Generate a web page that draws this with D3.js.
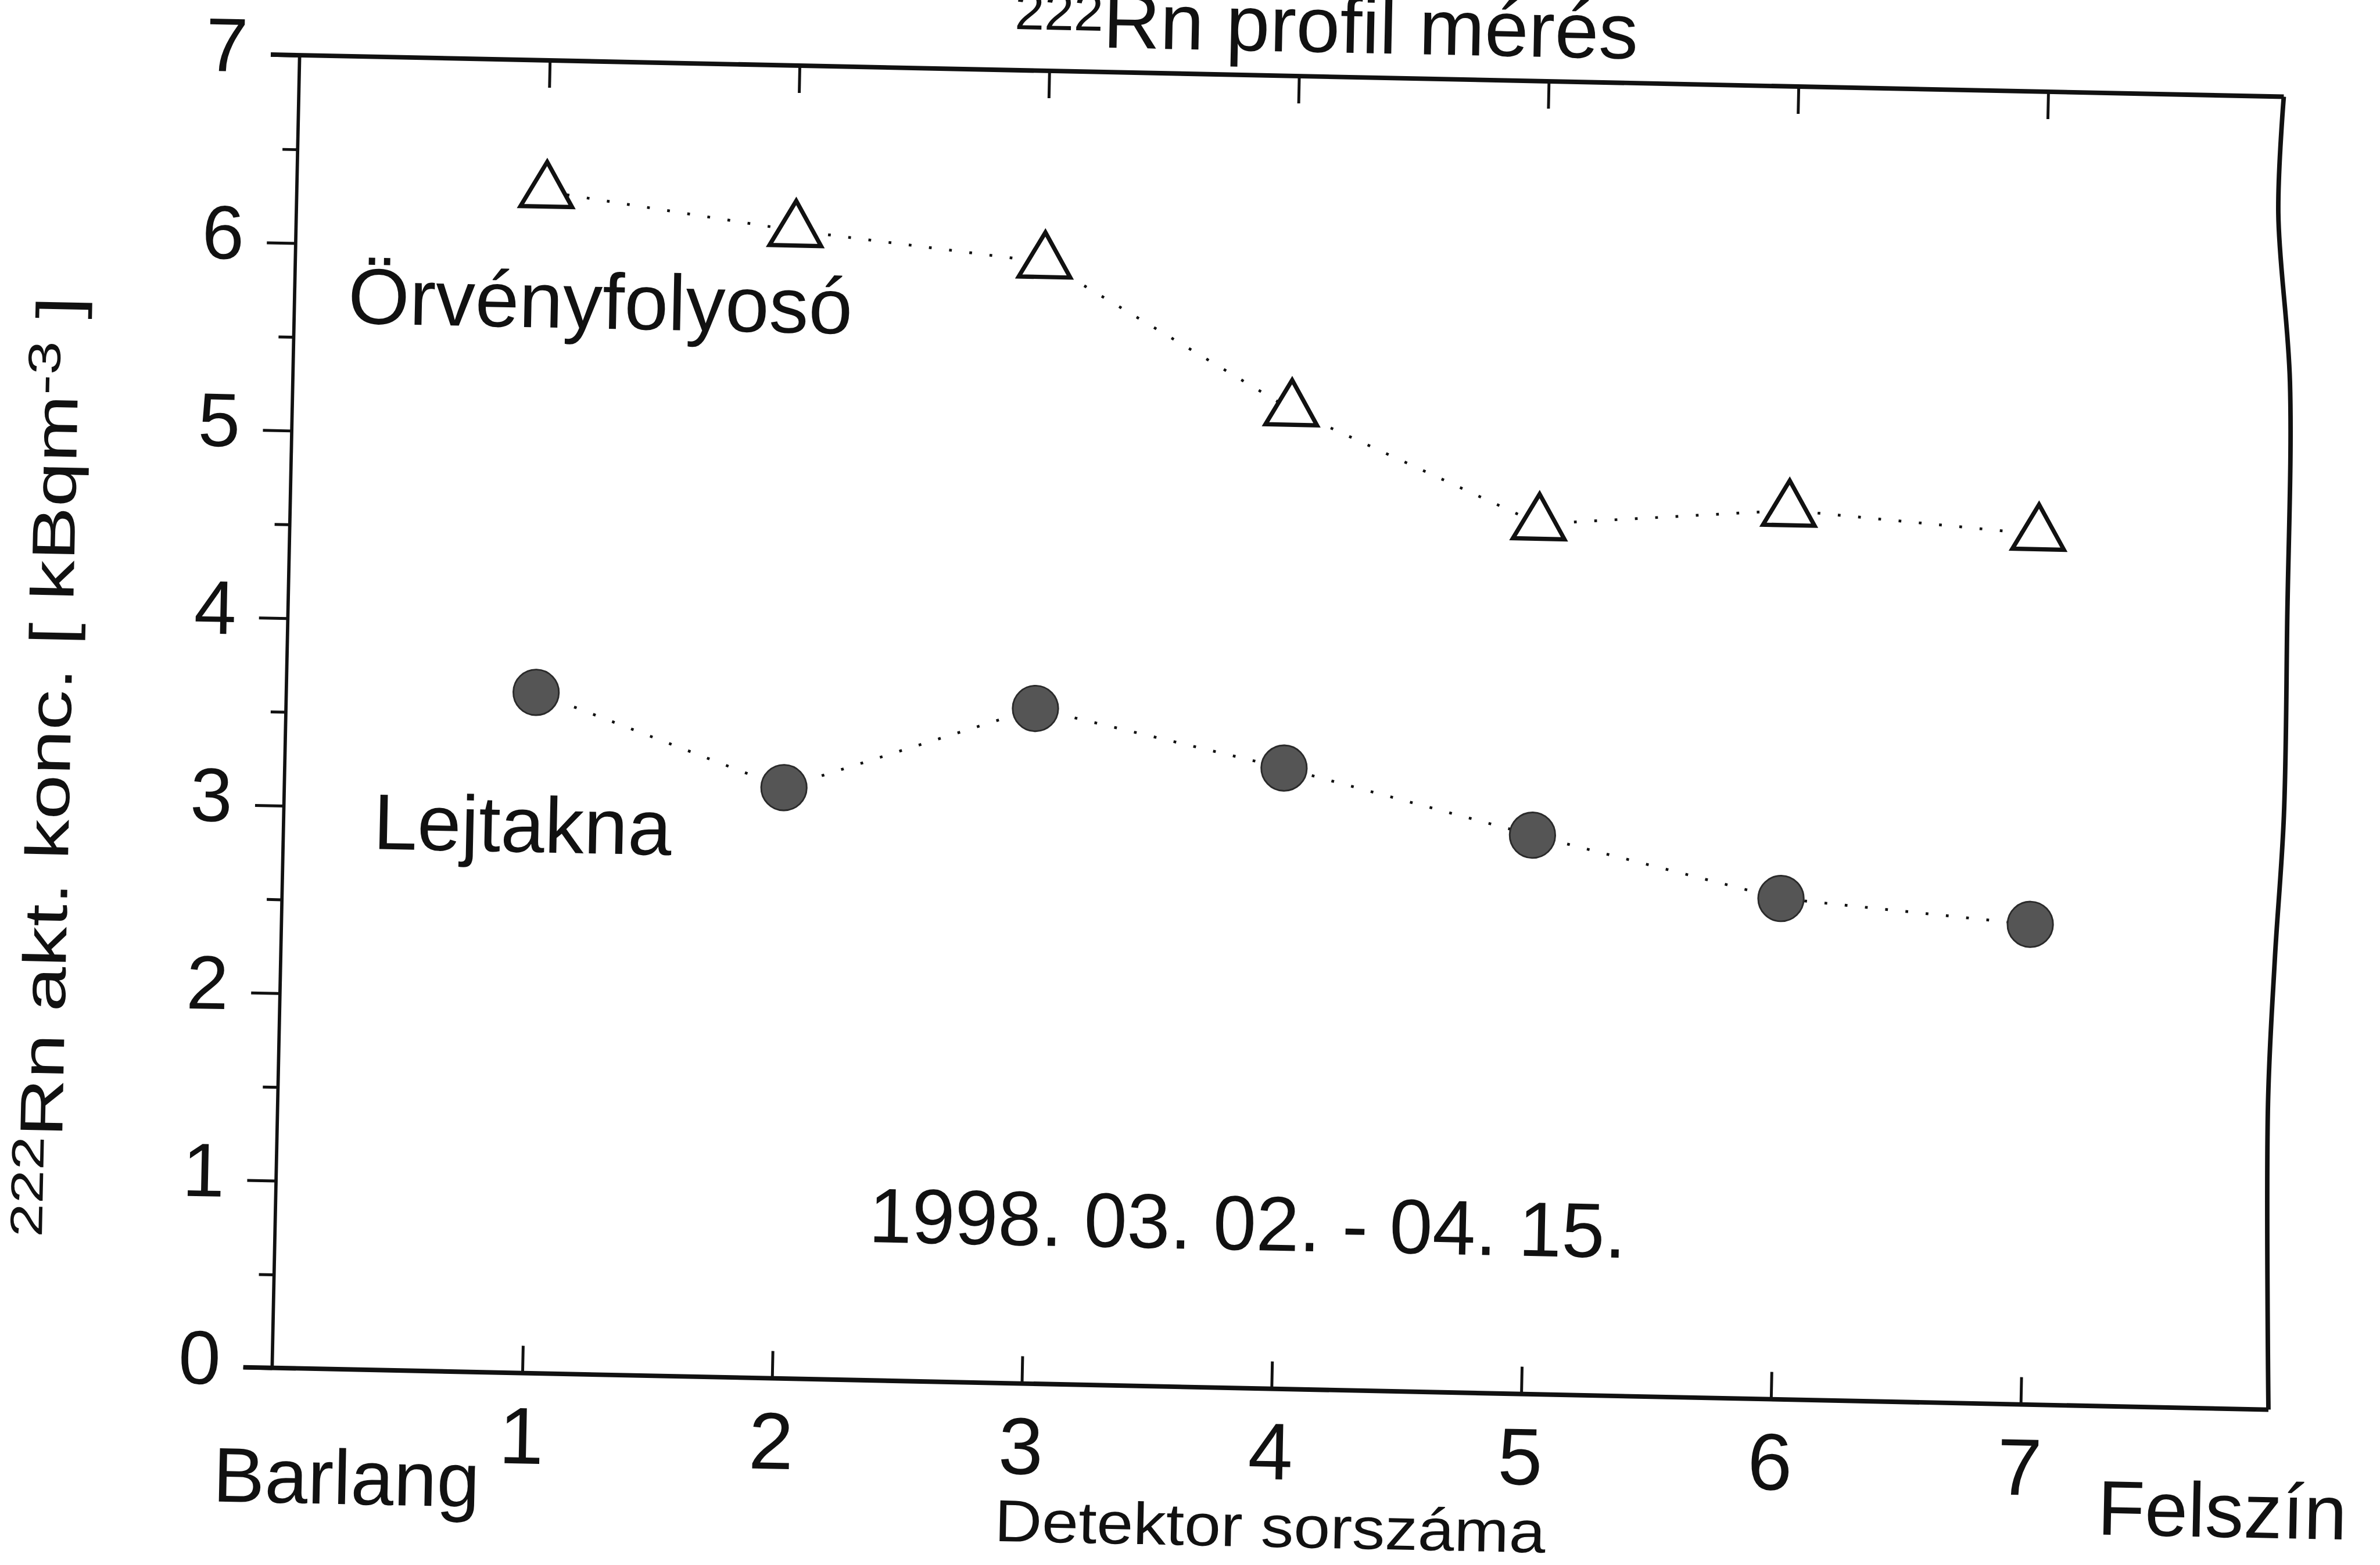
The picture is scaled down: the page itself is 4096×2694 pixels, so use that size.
<!DOCTYPE html>
<html>
<head>
<meta charset="utf-8">
<script src="https://cdn.jsdelivr.net/npm/d3@7"></script>
<style>
  html, body { margin: 0; padding: 0; background: #fff; }
  svg { display: block; }
  text { font-family: "Liberation Sans", Arial, sans-serif; fill: #111; }
</style>
</head>
<body>
<div id="chart"></div>
<script>
// 222Rn profile measurement - two detector lines, scanned-figure look

const detectors = [1, 2, 3, 4, 5, 6, 7];
const orvenyfolyoso = [6.30, 6.12, 5.98, 5.22, 4.64, 4.74, 4.64];
const lejtakna = [3.63, 3.15, 3.60, 3.31, 2.98, 2.67, 2.56];
const yTicks = [0, 1, 2, 3, 4, 5, 6, 7];
const yMinorTicks = [0.5, 1.5, 2.5, 3.5, 4.5, 5.5, 6.5];

// hand-drawn right border: [y value, sideways offset]
const edgeWobble = [[7, -9], [6.38, -11], [5.48, -1], [4.2, 0.5], [3.17, 1], [2.4, -3], [1.63, -5.5], [0, -1]];

function drawChart(containerId) {
    const W = 1568, H = 1031;   // drawing units, the viewBox scales them to the window
    const ink = '#111';

    d3.select(`#${containerId}`).selectAll('*').remove();

    const root = d3.select(`#${containerId}`)
        .append('svg')
        .attr('width', 4096)
        .attr('height', 2694)
        .attr('viewBox', `0 0 ${W} ${H}`);

    root.append('rect').attr('width', W).attr('height', H).attr('fill', '#fff');

    // the scanned page is slightly turned
    const svg = root.append('g').attr('transform', 'rotate(1.2, 784, 515)');

    const x = d3.scaleLinear().domain([0, 8]).range([187.5, 1504]);
    const y = d3.scaleLinear().domain([0, 7]).range([913.8, 48.6]);

    // frame
    const edgeTop = edgeWobble[0], edgeBottom = edgeWobble[edgeWobble.length - 1];
    svg.append('line')
        .attr('x1', x(0) - 19).attr('x2', x(8) + edgeTop[1])
        .attr('y1', y(7)).attr('y2', y(7))
        .attr('stroke', ink).attr('stroke-width', 3);
    svg.append('line')
        .attr('x1', x(0) - 19).attr('x2', x(8) + edgeBottom[1])
        .attr('y1', y(0)).attr('y2', y(0))
        .attr('stroke', ink).attr('stroke-width', 3);
    svg.append('line')
        .attr('x1', x(0)).attr('x2', x(0))
        .attr('y1', y(0)).attr('y2', y(7))
        .attr('stroke', ink).attr('stroke-width', 2.2);
    svg.append('path')
        .datum(edgeWobble)
        .attr('d', d3.line().x(d => x(8) + d[1]).y(d => y(d[0])).curve(d3.curveCatmullRom))
        .attr('fill', 'none').attr('stroke', ink).attr('stroke-width', 3);

    // y axis: major and minor ticks pointing out
    const yAxis = svg.append('g')
        .attr('transform', `translate(${x(0)},0)`)
        .call(d3.axisLeft(y).tickValues(yTicks).tickSize(19).tickPadding(15).tickFormat(d3.format('d')));
    yAxis.select('.domain').remove();
    yAxis.selectAll('line').attr('stroke', ink).attr('stroke-width', 1.9);
    yAxis.selectAll('text')
        .attr('dy', '0.22em')
        .style('font-size', '50px')
        .style('font-family', '"Liberation Sans", Arial, sans-serif')
        .style('fill', ink);

    const yMinor = svg.append('g')
        .attr('transform', `translate(${x(0)},0)`)
        .call(d3.axisLeft(y).tickValues(yMinorTicks).tickSize(10).tickFormat(''));
    yMinor.select('.domain').remove();
    yMinor.selectAll('line').attr('stroke', ink).attr('stroke-width', 1.9);

    // x axis: ticks pointing in, top and bottom
    const xAxis = svg.append('g')
        .attr('transform', `translate(0,${y(0)})`)
        .call(d3.axisBottom(x).tickValues(detectors).tickSizeInner(-18).tickSizeOuter(0).tickPadding(22));
    xAxis.select('.domain').remove();
    xAxis.selectAll('line').attr('stroke', ink).attr('stroke-width', 1.9);
    xAxis.selectAll('text')
        .style('font-size', '53px')
        .style('font-family', '"Liberation Sans", Arial, sans-serif')
        .style('fill', ink);

    const xTop = svg.append('g')
        .attr('transform', `translate(0,${y(7)})`)
        .call(d3.axisTop(x).tickValues(detectors).tickSizeInner(-18).tickSizeOuter(0).tickFormat(''));
    xTop.select('.domain').remove();
    xTop.selectAll('line').attr('stroke', ink).attr('stroke-width', 1.9);

    // series
    const rows = detectors.map((d, i) => ({ det: d, orv: orvenyfolyoso[i], lej: lejtakna[i] }));
    const dotted = key => d3.line().x(r => x(r.det)).y(r => y(r[key]));

    ['orv', 'lej'].forEach(key => {
        svg.append('path')
            .datum(rows)
            .attr('d', dotted(key))
            .attr('fill', 'none')
            .attr('stroke', ink)
            .attr('stroke-width', 1.8)
            .attr('stroke-dasharray', '1.8 11.6');
    });

    svg.selectAll('.tri')
        .data(rows)
        .enter()
        .append('path')
        .attr('class', 'tri')
        .attr('transform', r => `translate(${x(r.det)},${y(r.orv)})`)
        .attr('d', d3.symbol(d3.symbolTriangle, 500))
        .attr('fill', '#fff')
        .attr('stroke', ink)
        .attr('stroke-width', 2.8);

    svg.selectAll('.dot')
        .data(rows)
        .enter()
        .append('circle')
        .attr('class', 'dot')
        .attr('cx', r => x(r.det))
        .attr('cy', r => y(r.lej))
        .attr('r', 15)
        .attr('fill', '#555')
        .attr('stroke', '#2a2a2a')
        .attr('stroke-width', 1.1);

    // title (cut by the top edge of the scan, as in the original)
    const title = svg.append('text')
        .attr('x', 658).attr('y', 32.5)
        .attr('font-size', 52);
    title.append('tspan').attr('font-size', 35).attr('dy', -11).text('222');
    title.append('tspan').attr('dy', 11).text('Rn profil mérés');

    // y axis title
    const yl = svg.append('text')
        .attr('transform', 'translate(46,521) rotate(-90)')
        .attr('text-anchor', 'middle')
        .attr('font-size', 40)
        .attr('textLength', 620)
        .attr('lengthAdjust', 'spacingAndGlyphs');
    yl.append('tspan').attr('font-size', 30).attr('dy', -12).text('222');
    yl.append('tspan').attr('dy', 12).text('Rn akt. konc. [ kBqm');
    yl.append('tspan').attr('font-size', 30).attr('dy', -12).text('-3');
    yl.append('tspan').attr('dy', 12).text(' ]');

    // x axis words
    svg.append('text')
        .attr('x', 238).attr('y', 1002.6)
        .attr('text-anchor', 'middle').attr('font-size', 51)
        .text('Barlang');
    svg.append('text')
        .attr('x', 1474).attr('y', 998.4)
        .attr('text-anchor', 'middle').attr('font-size', 51)
        .text('Felszín');
    svg.append('text')
        .attr('x', 847).attr('y', 1018)
        .attr('text-anchor', 'middle').attr('font-size', 39)
        .attr('textLength', 363).attr('lengthAdjust', 'spacingAndGlyphs')
        .text('Detektor sorszáma');

    // series names and period
    svg.append('text')
        .attr('x', 389).attr('y', 224.6)
        .attr('text-anchor', 'middle').attr('font-size', 52)
        .text('Örvényfolyosó');
    svg.append('text')
        .attr('x', 345).attr('y', 570.5)
        .attr('text-anchor', 'middle').attr('font-size', 52)
        .text('Lejtakna');
    svg.append('text')
        .attr('x', 828).attr('y', 822.7)
        .attr('text-anchor', 'middle').attr('font-size', 51)
        .text('1998. 03. 02. - 04. 15.');
}

drawChart('chart');
</script>
</body>
</html>
